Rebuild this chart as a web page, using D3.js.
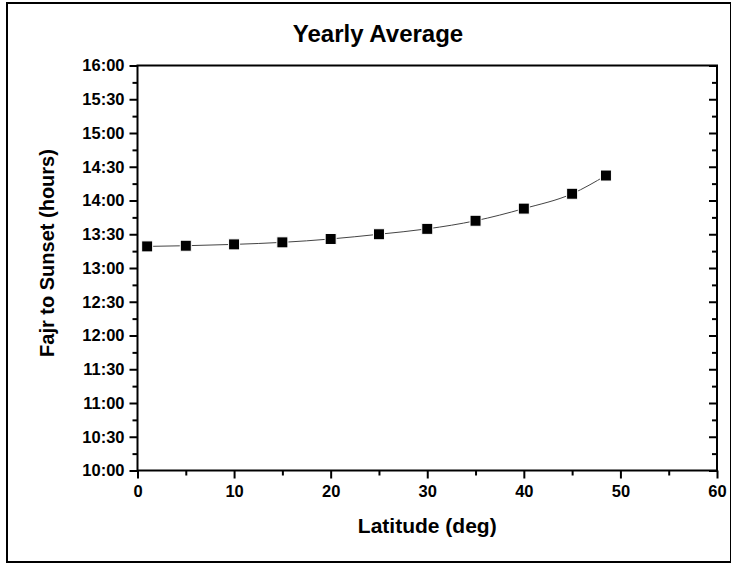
<!DOCTYPE html>
<html><head><meta charset="utf-8">
<script src="https://cdn.jsdelivr.net/npm/d3@7"></script>
<style>body{margin:0;background:#fff}svg{display:block}text{font-family:"Liberation Sans",Arial,sans-serif;font-weight:bold;fill:#000}</style>
</head><body>
<script>
const latitudes = [1, 5, 10, 15, 20, 25, 30, 35, 40, 45, 48.5];
const fajrToSunsetHours = [13.32, 13.33, 13.35, 13.38, 13.43, 13.50, 13.58, 13.70, 13.88, 14.10, 14.37];
const yTickValues = [10, 10.5, 11, 11.5, 12, 12.5, 13, 13.5, 14, 14.5, 15, 15.5, 16];
const xTickValues = [0, 10, 20, 30, 40, 50, 60];
const titleText = "Yearly Average";
const xTitle = "Latitude (deg)";
const yTitle = "Fajr to Sunset (hours)";

const W = 731, H = 565;
const svg = d3.select("body").append("svg").attr("width", W).attr("height", H);

// outer frame
svg.append("rect").attr("x", 7).attr("y", 3).attr("width", 724).attr("height", 559)
  .attr("fill", "none").attr("stroke", "#000").attr("stroke-width", 2);

const L = 137.5, R = 717, T = 65.5, B = 470.5;
const x = d3.scaleLinear().domain([0, 60]).range([L, R]);
const y = d3.scaleLinear().domain([10, 16]).range([B, T]);

const fmt = h => { const hh = Math.floor(h + 1e-9); const mm = Math.round((h - hh) * 60); return hh + ":" + (mm < 10 ? "0" : "") + mm; };

// frame of plot
svg.append("rect").attr("x", L).attr("y", T).attr("width", R - L).attr("height", B - T)
  .attr("fill", "none").attr("stroke", "#000").attr("stroke-width", 2);

function styleAxis(g) {
  g.select(".domain").remove();
  g.selectAll(".tick line").attr("stroke", "#000").attr("stroke-width", 2);
  g.selectAll("text").style("font-size", "16.5px").style("font-weight", "bold");
}

// left axis major/minor
const yMinor = d3.range(10.25, 16, 0.5);
svg.append("g").attr("transform", `translate(${L},0)`)
  .call(d3.axisLeft(y).tickValues(yTickValues).tickFormat(fmt).tickSize(8).tickPadding(5))
  .call(styleAxis);
svg.append("g").attr("transform", `translate(${L},0)`)
  .call(d3.axisLeft(y).tickValues(yMinor).tickFormat("").tickSize(5))
  .call(styleAxis);
// right axis inward ticks
svg.append("g").attr("transform", `translate(${R},0)`)
  .call(d3.axisRight(y).tickValues(yTickValues).tickFormat("").tickSize(-8))
  .call(styleAxis);
svg.append("g").attr("transform", `translate(${R},0)`)
  .call(d3.axisRight(y).tickValues(yMinor).tickFormat("").tickSize(-5))
  .call(styleAxis);

// bottom axis
const xMinor = d3.range(5, 60, 10);
svg.append("g").attr("transform", `translate(0,${B})`)
  .call(d3.axisBottom(x).tickValues(xTickValues).tickFormat(d3.format("d")).tickSize(8).tickPadding(7))
  .call(styleAxis);
svg.append("g").attr("transform", `translate(0,${B})`)
  .call(d3.axisBottom(x).tickValues(xMinor).tickFormat("").tickSize(5))
  .call(styleAxis);

// line
const data = latitudes.map((d, i) => ({x: d, y: fajrToSunsetHours[i]}));
svg.append("path").datum(data)
  .attr("d", d3.line().x(d => x(d.x)).y(d => y(d.y)).curve(d3.curveMonotoneX))
  .attr("fill", "none").attr("stroke", "#444").attr("stroke-width", 1);

// markers
svg.append("g").selectAll("rect").data(data).join("rect")
  .attr("x", d => x(d.x) - 5.5).attr("y", d => y(d.y) - 5.5)
  .attr("width", 11).attr("height", 11).attr("fill", "#000")
  .attr("stroke", "#fff").attr("stroke-width", 1);

// titles
svg.append("text").attr("x", 378).attr("y", 42).attr("text-anchor", "middle")
  .style("font-size", "24px").text(titleText);
svg.append("text").attr("x", (L + R) / 2).attr("y", 533).attr("text-anchor", "middle")
  .style("font-size", "21px").text(xTitle);
svg.append("text").attr("transform", `translate(54,${(T + B) / 2 - 15}) rotate(-90)`)
  .attr("text-anchor", "middle").style("font-size", "20px").text(yTitle);
</script>
</body></html>
